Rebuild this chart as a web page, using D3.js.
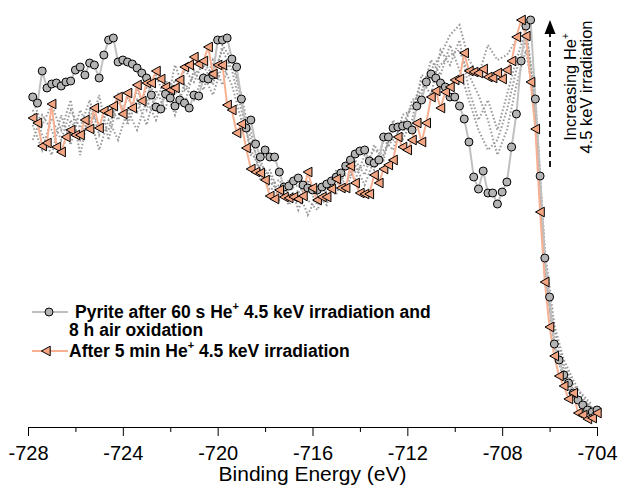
<!DOCTYPE html>
<html>
<head>
<meta charset="utf-8">
<script src="https://cdn.jsdelivr.net/npm/d3@7"></script>
<style>
body { margin: 0; background: #fff; }
svg { display: block; }
</style>
</head>
<body>
<div id="chart"></div>
<script>
// binding energy grid (eV), 0.2 eV steps
var energy = [
    -727.8, -727.6, -727.4, -727.2, -727.0, -726.8, -726.6, -726.4, -726.2, -726.0,
    -725.8, -725.6, -725.4, -725.2, -725.0, -724.8, -724.6, -724.4, -724.2, -724.0,
    -723.8, -723.6, -723.4, -723.2, -723.0, -722.8, -722.6, -722.4, -722.2, -722.0,
    -721.8, -721.6, -721.4, -721.2, -721.0, -720.8, -720.6, -720.4, -720.2, -720.0,
    -719.8, -719.6, -719.4, -719.2, -719.0, -718.8, -718.6, -718.4, -718.2, -718.0,
    -717.8, -717.6, -717.4, -717.2, -717.0, -716.8, -716.6, -716.4, -716.2, -716.0,
    -715.8, -715.6, -715.4, -715.2, -715.0, -714.8, -714.6, -714.4, -714.2, -714.0,
    -713.8, -713.6, -713.4, -713.2, -713.0, -712.8, -712.6, -712.4, -712.2, -712.0,
    -711.8, -711.6, -711.4, -711.2, -711.0, -710.8, -710.6, -710.4, -710.2, -710.0,
    -709.8, -709.6, -709.4, -709.2, -709.0, -708.8, -708.6, -708.4, -708.2, -708.0,
    -707.8, -707.6, -707.4, -707.2, -707.0, -706.8, -706.6, -706.4, -706.2, -706.0,
    -705.8, -705.6, -705.4, -705.2, -705.0, -704.8, -704.6, -704.4, -704.2, -704.0
];

// Pyrite after 60 s He+ 4.5 keV irradiation and 8 h air oxidation (arb. units)
var oxidised = [
    323, 317, 349, 332, 336, 337, 334, 338, 339, 350,
    353, 345, 357, 355, 342, 365, 380, 382, 358, 360,
    358, 356, 352, 347, 342, 325, 313, 311, 326, 322,
    314, 320, 317, 312, 325, 324, 342, 341, 345, 380,
    380, 382, 361, 353, 321, 292, 300, 276, 263, 270,
    263, 263, 248, 233, 234, 239, 242, 235, 232, 230,
    230, 233, 236, 239, 243, 247, 254, 260, 266, 269,
    270, 259, 257, 260, 283, 283, 292, 293, 294, 295,
    290, 314, 320, 338, 346, 342, 337, 333, 323, 323,
    314, 301, 278, 243, 231, 249, 227, 227, 216, 228,
    238, 273, 306, 359, 394, 400, 321, 244, 162, 123,
    76, 60, 45, 37, 27, 20, 15, 10, 8, 10
];

// After 5 min He+ 4.5 keV irradiation
var irradiated = [
    302, 297, 274, 277, 316, 273, 268, 283, 290, 285,
    285, 300, 291, 312, 292, 309, 307, 314, 323, 306,
    327, 312, 335, 319, 337, 337, 349, 341, 333, 330,
    332, 340, 353, 355, 363, 356, 359, 373, 346, 355,
    355, 315, 310, 287, 296, 272, 251, 248, 247, 240,
    224, 221, 230, 223, 222, 223, 221, 224, 248, 232,
    220, 223, 223, 231, 241, 232, 232, 254, 237, 227,
    226, 226, 245, 237, 251, 255, 260, 283, 273, 270,
    280, 297, 278, 297, 323, 329, 312, 328, 333, 340,
    341, 367, 349, 348, 347, 351, 343, 342, 347, 341,
    350, 359, 383, 400, 384, 338, 291, 208, 138, 93,
    64, 44, 34, 21, 27, 7, 5, 1, 2, 7
];

// intermediate irradiation steps (dotted), 0.4 eV grid
var dotEnergy = [
    -727.8, -727.4, -727.0, -726.6, -726.2, -725.8, -725.4, -725.0, -724.6, -724.2,
    -723.8, -723.4, -723.0, -722.6, -722.2, -721.8, -721.4, -721.0, -720.6, -720.2,
    -719.8, -719.4, -719.0, -718.6, -718.2, -717.8, -717.4, -717.0, -716.6, -716.2,
    -715.8, -715.4, -715.0, -714.6, -714.2, -713.8, -713.4, -713.0, -712.6, -712.2,
    -711.8, -711.4, -711.0, -710.6, -710.2, -709.8, -709.4, -709.0, -708.6, -708.2,
    -707.8, -707.4, -707.0, -706.6, -706.2, -705.8, -705.4, -705.0, -704.6, -704.2
];
var step1 = [
    295, 270, 302, 280, 310, 292, 320, 285, 315, 300,
    322, 308, 332, 320, 340, 325, 350, 338, 358, 345,
    370, 350, 310, 270, 250, 230, 235, 215, 230, 205,
    225, 220, 245, 230, 255, 235, 260, 270, 280, 295,
    315, 330, 350, 365, 385, 395, 360, 345, 375, 360,
    365, 380, 395, 310, 155, 70, 42, 22, 20, 12
];
var step2 = [
    310, 285, 265, 305, 275, 310, 290, 325, 280, 320,
    300, 330, 310, 345, 320, 340, 315, 350, 330, 360,
    335, 365, 325, 280, 255, 245, 220, 240, 210, 235,
    215, 235, 225, 252, 240, 265, 250, 280, 270, 305,
    310, 340, 325, 370, 355, 380, 330, 300, 320, 290,
    325, 360, 390, 325, 165, 90, 55, 35, 25, 15
];
var step3 = [
    280, 305, 290, 265, 300, 280, 305, 270, 300, 280,
    310, 290, 320, 300, 330, 305, 335, 320, 345, 325,
    355, 335, 300, 290, 240, 250, 225, 230, 235, 220,
    210, 230, 235, 245, 248, 255, 270, 265, 290, 285,
    320, 325, 360, 345, 375, 350, 320, 290, 270, 280,
    310, 350, 380, 300, 145, 80, 50, 30, 17, 10
];
var step4 = [
    320, 295, 315, 290, 320, 265, 310, 295, 290, 325,
    295, 320, 295, 330, 310, 355, 330, 345, 355, 335,
    375, 360, 320, 265, 260, 235, 240, 225, 220, 240,
    225, 215, 250, 235, 260, 245, 275, 260, 300, 280,
    300, 345, 340, 355, 365, 370, 345, 325, 300, 265,
    290, 335, 370, 315, 170, 95, 60, 40, 22, 12
];

var majorTicks = [-728, -724, -720, -716, -712, -708, -704];
var minorTicks = [-726, -722, -718, -714, -710, -706];

function init() {
    var width = 619;
    var height = 486;
    var font = "'Liberation Sans', Arial, Helvetica, sans-serif";

    var svg = d3.select("#chart")
        .append("svg")
        .attr("width", width)
        .attr("height", height)
        .style("font-family", font);

    var x = d3.scaleLinear().domain([-728, -704]).range([28, 597]);
    var y = d3.scaleLinear().domain([0, 400]).range([420, 20]);
    var axisY = 427;

    var line = d3.line()
        .x(d => x(d[0]))
        .y(d => y(d[1]));

    // dotted intermediate spectra
    [step1, step2, step3, step4].forEach(function (vals) {
        svg.append("path")
            .datum(d3.zip(dotEnergy, vals))
            .attr("d", line)
            .attr("fill", "none")
            .attr("stroke", "#9c9c9c")
            .attr("stroke-width", 2)
            .attr("stroke-dasharray", "1.6,2");
    });

    var ox = d3.zip(energy, oxidised);
    var irr = d3.zip(energy, irradiated);

    svg.append("path")
        .datum(ox)
        .attr("d", line)
        .attr("fill", "none")
        .attr("stroke", "#c0c0c0")
        .attr("stroke-width", 2);

    svg.append("path")
        .datum(irr)
        .attr("d", line)
        .attr("fill", "none")
        .attr("stroke", "#f8b092")
        .attr("stroke-width", 2);

    svg.selectAll("circle.ox")
        .data(ox)
        .enter()
        .append("circle")
        .attr("class", "ox")
        .attr("cx", d => x(d[0]))
        .attr("cy", d => y(d[1]))
        .attr("r", 4)
        .attr("fill", "#b4b4b4")
        .attr("stroke", "#000")
        .attr("stroke-width", 1);

    var tri = "M-4.6,0L4.2,-4.8L4.2,4.8Z";
    svg.selectAll("path.irr")
        .data(irr)
        .enter()
        .append("path")
        .attr("class", "irr")
        .attr("d", tri)
        .attr("transform", d => "translate(" + x(d[0]) + "," + y(d[1]) + ")")
        .attr("fill", "#f4a582")
        .attr("stroke", "#000")
        .attr("stroke-width", 1);

    // x axis
    var gx = svg.append("g")
        .attr("transform", "translate(0," + axisY + ")")
        .call(d3.axisBottom(x).tickValues(majorTicks).tickSize(9).tickFormat(d => String(d)));
    gx.select(".domain").attr("stroke", "#000");
    gx.selectAll(".tick line").attr("stroke", "#000");
    gx.selectAll(".tick text")
        .attr("y", 33)
        .attr("dy", 0)
        .attr("fill", "#000")
        .style("font-size", "20px")
        .style("font-family", font);

    svg.append("g")
        .attr("transform", "translate(0," + axisY + ")")
        .call(d3.axisBottom(x).tickValues(minorTicks).tickSize(5).tickFormat(""))
        .call(g => g.select(".domain").remove())
        .selectAll(".tick line").attr("stroke", "#000");

    svg.append("text")
        .attr("x", x(-716))
        .attr("y", 481)
        .attr("text-anchor", "middle")
        .style("font-size", "21px")
        .text("Binding Energy (eV)");

    // legend
    var lg = svg.append("g").style("font-size", "17.5px").style("font-weight", "bold");

    lg.append("line").attr("x1", 32).attr("x2", 68).attr("y1", 312).attr("y2", 312)
        .attr("stroke", "#c0c0c0").attr("stroke-width", 2);
    lg.append("circle").attr("cx", 49).attr("cy", 312).attr("r", 4)
        .attr("fill", "#b4b4b4").attr("stroke", "#000");
    var t1 = lg.append("text").attr("x", 75).attr("y", 318);
    t1.append("tspan").text("Pyrite after 60 s He");
    t1.append("tspan").attr("dy", -8).style("font-size", "11px").text("+");
    t1.append("tspan").attr("dy", 8).text(" 4.5 keV irradiation and");
    lg.append("text").attr("x", 69).attr("y", 336).text("8 h air oxidation");

    lg.append("line").attr("x1", 32).attr("x2", 68).attr("y1", 351).attr("y2", 351)
        .attr("stroke", "#f8b092").attr("stroke-width", 2);
    lg.append("path").attr("d", tri).attr("transform", "translate(46,351)")
        .attr("fill", "#f4a582").attr("stroke", "#000");
    var t2 = lg.append("text").attr("x", 69).attr("y", 357);
    t2.append("tspan").text("After 5 min He");
    t2.append("tspan").attr("dy", -8).style("font-size", "11px").text("+");
    t2.append("tspan").attr("dy", 8).text(" 4.5 keV irradiation");

    // annotation arrow
    svg.append("line")
        .attr("x1", 550).attr("x2", 550)
        .attr("y1", 167).attr("y2", 32)
        .attr("stroke", "#000")
        .attr("stroke-width", 1.8)
        .attr("stroke-dasharray", "6,4");
    svg.append("path")
        .attr("d", "M550,20L544.5,34L555.5,34Z")
        .attr("fill", "#000");

    var ann = svg.append("g")
        .attr("transform", "translate(576,87) rotate(-90)")
        .style("font-size", "16.5px");
    var a1 = ann.append("text").attr("text-anchor", "middle").attr("y", 0);
    a1.append("tspan").text("Increasing He");
    a1.append("tspan").attr("dy", -7).style("font-size", "10px").text("+");
    ann.append("text").attr("text-anchor", "middle").attr("y", 16).text("4.5 keV irradiation");
}

window.onload = init;
</script>
</body>
</html>
